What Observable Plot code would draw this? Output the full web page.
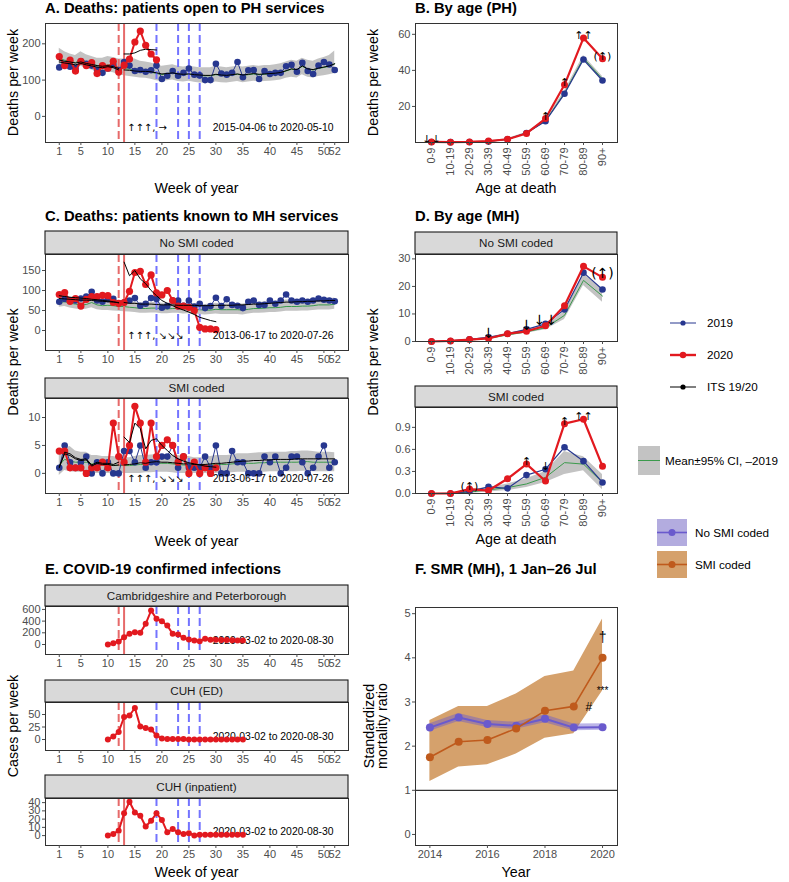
<!DOCTYPE html>
<html><head><meta charset="utf-8">
<script src="https://cdn.jsdelivr.net/npm/d3@7"></script>
<script src="https://cdn.jsdelivr.net/npm/@observablehq/plot@0.6"></script>
<style>
body{margin:0;background:#fff;}
#root{position:relative;width:789px;height:882px;overflow:hidden;font-family:"Liberation Sans",Arial,Helvetica,sans-serif;background:#fff;}
#root svg{position:absolute;}
</style></head><body><div id="root"></div>
<script>
// ---------------- DATA ----------------
const weekTicks = [1,5,10,15,20,25,30,35,40,45,50,52];
const redDashedWeeks = [12];
const redSolidWeeks = [13];
const blueDashedWeeks = [19,23,25,27];

// Panel A (PH weekly deaths)
const A_2019 = [135,143,137,133,152,145,140,128,120,132,143,128,150,140,125,128,123,127,140,103,112,125,112,120,132,115,113,100,100,145,118,115,120,150,108,127,128,103,125,117,120,120,138,142,123,148,125,117,140,150,143,128];
const A_2020 = [165,140,155,125,152,140,148,118,140,133,152,122,141,158,205,235,196,172,156];
const A_mean = [160,155,152,148,158,150,145,140,138,142,140,135,132,130,128,126,125,122,118,115,118,120,116,115,117,114,112,112,112,115,113,112,114,116,113,115,117,115,116,117,118,120,125,130,128,138,130,128,132,135,138,145];
const A_hi = [188,178,172,168,178,170,165,160,160,165,162,158,158,160,158,152,150,147,142,138,140,142,138,136,138,136,134,134,134,138,136,134,136,138,136,138,140,138,140,140,142,145,150,155,152,160,155,152,158,162,168,180];
const A_lo = [140,136,134,130,138,132,128,122,118,122,120,115,112,110,108,106,105,102,98,96,98,100,96,95,97,94,92,92,92,95,93,92,94,96,93,95,97,95,96,97,98,100,105,108,106,115,108,106,110,112,115,118];
const A_itsPre19 = [150,147,145,142,146,142,139,136,134,137,134,128];
const A_itsPre20 = [155,152,150,147,150,146,143,140,138,140,137,132];
const A_itsPost19 = [128,127,125,124,124,123,120,117,118,120,117,116,117,115,114,113,113,116,114,113,115,117,114,116,118,116,117,118,119,121,126,131,129,139,131,129,133,136,139,145];
const A_itsPost20 = [172,172,175,182,185,184,183];
const A_arrows = "↑↑↑, →";
const A_range = "2015-04-06 to 2020-05-10";

// Panel C (MH weekly deaths)
const C1_2019 = [72,79,75,75,80,85,97,75,72,78,79,68,70,75,81,62,67,81,79,57,61,75,75,62,75,60,67,56,61,82,61,78,64,62,56,72,75,64,64,75,67,75,90,75,72,75,72,75,80,77,75,73];
const C1_2020 = [90,95,73,80,61,78,85,85,88,87,70,68,70,98,145,148,115,139,94,89,100,75,61,61,58,50,8,4,4,2];
const C1_mean = [70,72,68,66,64,65,70,64,62,63,62,60,60,58,57,55,55,56,56,54,54,55,55,53,54,52,52,51,51,53,52,52,52,52,51,53,55,55,56,57,57,58,60,60,60,61,61,62,64,64,64,66];
const C1_hi = [84,88,84,82,80,80,86,80,78,78,77,75,74,72,71,69,69,70,70,68,68,69,69,67,68,66,66,65,66,68,66,66,66,66,66,68,70,70,71,72,72,73,76,76,75,76,76,77,79,79,79,81];
const C1_lo = [58,60,56,54,52,53,57,52,50,50,49,48,47,46,45,43,43,44,44,42,42,43,43,41,42,40,40,39,40,41,40,40,40,40,39,41,43,43,44,45,45,46,48,48,48,49,49,50,51,51,51,53];
const C1_itsPre19 = [80,79,78,77,76,76,75,74,73,72,71,70];
const C1_itsPre20 = [87,85,83,82,81,80,78,77,75,74,72,69];
const C1_itsPost19 = [70,68,68,66,66,66,65,64,64,64,63,63,63,63,62,62,62,63,63,63,63,64,64,65,66,66,67,68,69,70,71,71,72,72,73,73,74,74,75,75];
const C1_itsPost20 = [171,137,150,129,117,100,87,75,68,62,56,51,46,40,33,29,25,22];

const C2_2019 = [1,5,2,1,2,3,0,2,0,2,0,0,4,4,2,5,1,2,2,3,3,5,1,3,1,1,1,3,1,5,0,0,4,2,2,0,0,0,3,2,3,0,1,3,3,2,0,1,3,5,1,2];
const C2_2020 = [4,4,1,1,1,0,1,1,2,1,9,3,2,5,12,9,2,9,3,5,6,5,2,3,0,2,0,1,0,1];
const C2_mean = [1.5,2.5,2.2,2,2,2,1.7,1.6,1.5,1.5,1.5,1.4,1.4,1.4,1.5,1.6,1.6,1.7,1.8,1.8,1.8,1.7,1.6,1.5,1.5,1.4,1.4,1.4,1.5,1.6,1.6,1.6,1.7,1.8,1.8,1.8,1.8,1.9,1.9,2.0,2.0,2.0,2.0,2.0,2.0,2.1,2.1,2.0,2.0,2.0,2.0,2.0];
const C2_hi = [3.5,4.5,4.8,4,3.8,3.8,3.2,3.2,3,3,3,2.8,2.8,2.8,3,3.2,3.2,3.3,3.4,3.4,3.4,3.3,3.2,3,3,2.8,2.8,2.8,3,3.2,3.2,3.2,3.3,3.5,3.5,3.5,3.6,3.7,3.7,3.8,3.8,3.8,3.8,3.9,3.9,4,4,3.9,3.8,3.8,3.8,3.7];
const C2_lo = [-0.4,0.5,0.3,0.2,0.2,0.2,0,0,0,0,0,0,0,0,0,0,0.1,0.1,0.2,0.2,0.2,0.1,0,0,0,0,0,0,0,0,0,0,0.1,0.2,0.2,0.2,0.2,0.2,0.2,0.3,0.3,0.3,0.3,0.3,0.3,0.4,0.4,0.3,0.3,0.3,0.3,0.3];
const C2_itsPre19 = [1.2,3.5,3.2,2.6,2.3,2.4,1.3,1.8,1.6,1.6,1.4,1.5];
const C2_itsPre20 = [1,3.8,3.5,2.8,2.5,2.6,1.5,2,1.8,1.8,1.6,2];
const C2_itsPost19 = [1.5,1.6,1.7,1.9,1.8,2.0,2.1,2.0,2.0,1.9,1.8,1.7,1.7,1.6,1.6,1.6,1.7,1.8,1.8,1.9,2.0,2.1,2.2,2.2,2.3,2.3,2.4,2.4,2.5,2.5,2.5,2.5,2.6,2.6,2.6,2.6,2.6,2.6,2.6,2.6];
const C2_itsPost20 = [6.5,5.5,9,8,4.4,5.9,6.2,5,4.1,3.2,2.6,2.2,1.9,1.7,1.5,1.3,1.2,1.1];
const C_arrows = "↑↑↑, ↘↘↘";
const C_range = "2013-06-17 to 2020-07-26";
const mhFacets = ["No SMI coded", "SMI coded"];

// Panels B, D (by age)
const ages = ["0-9","10-19","20-29","30-39","40-49","50-59","60-69","70-79","80-89","90+"];
const B_2019 = [0.3,0.2,0.3,0.6,1.8,5.3,11.8,27,46,34.4];
const B_2020 = [0.3,0.2,0.3,0.8,1.8,5,13.3,32,58,46.5];
const B_mean = [0.3,0.2,0.3,0.6,1.7,5.2,12,27.5,46.8,35.2];
const B_lo = [0.1,0.1,0.2,0.4,1.4,4.7,11.2,26.5,45.3,33.8];
const B_hi = [0.5,0.4,0.5,0.8,2.1,5.7,12.9,28.6,48.2,36.6];
const B_arrows = ["↓↓","","","","","","↑","↑","↑↑","(↑)"];

const D1_2019 = [0,0.2,0.8,1.5,2.8,4.4,6.4,11.6,25,18.9];
const D1_2020 = [0,0.2,0.7,1.1,2.8,3.7,5.7,13,27.3,23.3];
const D1_mean = [0,0.1,0.5,1.1,2.4,3.5,5,9.5,22.2,16.5];
const D1_lo = [0,0,0.3,0.8,2,3,4.3,8,20.3,14.3];
const D1_hi = [0.1,0.3,0.8,1.5,3,4.2,5.8,10.8,24.5,19];
const D1_arrows = ["","","","↓","","↓","↓↓","","","(↑)"];

const D2_2019 = [0,0,0.03,0.09,0.07,0.25,0.33,0.63,0.44,0.15];
const D2_2020 = [0,0,0.06,0.04,0.2,0.4,0.17,0.95,1.01,0.37];
const D2_mean = [0,0,0.02,0.05,0.08,0.13,0.22,0.42,0.4,0.15];
const D2_lo = [0,0,0,0.02,0.04,0.08,0.15,0.26,0.31,0.05];
const D2_hi = [0,0.01,0.05,0.08,0.13,0.2,0.3,0.57,0.5,0.26];
const D2_arrows = ["","","(↑)","","","↑","↓","↑","↑↑",""];

// Panel E (COVID-19 infections, weeks 10-35)
const E_weeks = [10,11,12,13,14,15,16,17,18,19,20,21,22,23,24,25,26,27,28,29,30,31,32,33,34,35];
const E1 = [0,23,51,125,182,211,200,353,581,439,399,325,182,170,114,85,68,57,97,80,80,75,75,72,70,68];
const E2 = [0,6,15,45,48,63,26,23,20,8,2,1,1,1,1,0,0,0,0,0,0,0,0,0,0,0];
const E3 = [0,2,6,27,41,28,24,11,18,27,19,4,8,4,2,3,0,1,1,1,1,1,1,1,1,1];
const E_facets = ["Cambridgeshire and Peterborough", "CUH (ED)", "CUH (inpatient)"];
const E_range = "2020-03-02 to 2020-08-30";

// Panel F (SMR)
const F_years = [2014,2015,2016,2017,2018,2019,2020];
const F_no = [2.42,2.65,2.5,2.46,2.62,2.42,2.43];
const F_no_lo = [2.34,2.56,2.42,2.38,2.53,2.35,2.36];
const F_no_hi = [2.51,2.74,2.58,2.54,2.71,2.5,2.51];
const F_smi = [1.75,2.1,2.14,2.4,2.8,2.9,4.0];
const F_smi_lo = [1.2,1.53,1.58,1.82,2.18,2.28,3.25];
const F_smi_hi = [2.58,2.9,2.9,3.18,3.58,3.7,4.88];
const F_groups = ["No SMI coded", "SMI coded"];

const legendSeries = ["2019", "2020", "ITS 19/20"];
const legendMean = "Mean±95% CI, –2019";

// ---------------- STYLE ----------------
const FONT = '"Liberation Sans", Arial, Helvetica, sans-serif';
const ARROWFONT = '"DejaVu Sans", sans-serif';
const BLUE = "#27378f", RED = "#e2191f", GREEN = "#3b9a4c", GRAY = "#c3c3c3";
const RED_V = "#e66a6a", BLUE_V = "#7474ff";
const PURPLE = "#6a5acd", ORANGE = "#bf5a1c", ORANGE_BAND = "#d5a16c";

const root = document.getElementById("root");
const weeks = d3.range(1, 53);

function panel(f, {x, y, xAxis, yAxis, marks, mb = 20}) {
  const ml = 40, mt = 2, mr = 3;
  const svg = Plot.plot({
    width: f.x1 - f.x0 + ml + mr, height: f.y1 - f.y0 + mt + mb,
    marginLeft: ml, marginRight: mr, marginTop: mt, marginBottom: mb,
    x, y,
    style: {fontFamily: FONT, fontSize: "11px", color: "#4d4d4d", background: "transparent", overflow: "visible"},
    marks: [...marks, Plot.frame({stroke: "#333", strokeWidth: 1}), xAxis, yAxis]
  });
  svg.style.left = (f.x0 - ml) + "px";
  svg.style.top = (f.y0 - mt) + "px";
  root.appendChild(svg);
}

const ser = (xs, vs) => vs.map((v, i) => ({x: xs[i], v}));

function eventRules() {
  return [
    Plot.ruleX(redDashedWeeks, {stroke: RED_V, strokeWidth: 2, strokeDasharray: "8,4"}),
    Plot.ruleX(redSolidWeeks, {stroke: RED_V, strokeWidth: 2}),
    Plot.ruleX(blueDashedWeeks, {stroke: BLUE_V, strokeWidth: 2, strokeDasharray: "8,4"})
  ];
}

function weekAxisX() { return Plot.axisX({ticks: weekTicks, tickSize: 3, tickPadding: 2, label: null, fontSize: 11}); }

function weekPanel(f, d) {
  const band = weeks.map((w, i) => ({x: w, lo: d.lo[i], hi: d.hi[i], m: d.mean[i]}));
  const s19 = ser(weeks, d.v19), s20 = ser(weeks, d.v20);
  const its = [ser(weeks, d.pre19), ser(weeks, d.pre20), ser(weeks.slice(12), d.post19), ser(weeks.slice(12), d.post20)];
  panel(f, {
    x: {domain: [-1.55, 54.55]}, y: {domain: d.yDomain},
    xAxis: weekAxisX(),
    yAxis: Plot.axisY({ticks: d.yTicks, tickSize: 3, tickPadding: 2, label: null, fontSize: 11}),
    marks: [
      Plot.areaY(band, {x: "x", y1: "lo", y2: "hi", fill: GRAY}),
      Plot.lineY(band, {x: "x", y: "m", stroke: GREEN, strokeWidth: 1}),
      ...eventRules(),
      Plot.lineY(s19, {x: "x", y: "v", stroke: BLUE, strokeWidth: 1}),
      Plot.dot(s19, {x: "x", y: "v", r: 3.3, fill: BLUE}),
      Plot.lineY(s20, {x: "x", y: "v", stroke: RED, strokeWidth: 2}),
      Plot.dot(s20, {x: "x", y: "v", r: 3.6, fill: RED}),
      ...its.map(s => Plot.lineY(s, {x: "x", y: "v", stroke: "#000", strokeWidth: 1})),
      Plot.text([d.arrows], {x: () => redSolidWeeks[0], frameAnchor: "bottom", text: t => t, textAnchor: "start", dx: 3, dy: -12, fontSize: 10, fontFamily: ARROWFONT, fill: "#000"}),
      Plot.text([d.range], {frameAnchor: "bottom-right", text: t => t, textAnchor: "end", dx: -15, dy: -12, fontSize: 10.4, fill: "#000"})
    ]
  });
}

function agePanel(f, d) {
  const rows = ages.map((a, i) => ({a, y19: d.v19[i], y20: d.v20[i], m: d.mean[i], lo: d.lo[i], hi: d.hi[i], t: d.arrows[i]}));
  panel(f, {
    x: {type: "point", domain: ages, padding: 0.6}, y: {domain: d.yDomain},
    mb: 42,
    xAxis: Plot.axisX({tickRotate: -90, tickSize: 3, tickPadding: 2, label: null, fontSize: 11}),
    yAxis: Plot.axisY({ticks: d.yTicks, tickFormat: d.fmt, tickSize: 3, tickPadding: 2, label: null, fontSize: 11}),
    marks: [
      Plot.areaY(rows, {x: "a", y1: "lo", y2: "hi", fill: GRAY}),
      Plot.lineY(rows, {x: "a", y: "m", stroke: GREEN, strokeWidth: 1}),
      Plot.lineY(rows, {x: "a", y: "y19", stroke: BLUE, strokeWidth: 1.2}),
      Plot.dot(rows, {x: "a", y: "y19", r: 3.3, fill: BLUE}),
      Plot.lineY(rows, {x: "a", y: "y20", stroke: RED, strokeWidth: 2.2}),
      Plot.dot(rows, {x: "a", y: "y20", r: 3.5, fill: RED}),
      Plot.text(rows.filter(r => r.t), {x: "a", y: r => Math.max(r.y19, r.y20), text: "t", lineAnchor: "bottom", dy: 1, fontSize: d.arrowSize, fontFamily: ARROWFONT, fill: "#000"})
    ]
  });
}

function casePanel(f, vals, yDomain, yTicks) {
  const s = ser(E_weeks, vals);
  panel(f, {
    x: {domain: [-1.55, 54.55]}, y: {domain: yDomain},
    xAxis: weekAxisX(),
    yAxis: Plot.axisY({ticks: yTicks, tickSize: 3, tickPadding: 2, label: null, fontSize: 11}),
    marks: [
      ...eventRules(),
      Plot.text([E_range], {frameAnchor: "bottom-right", text: t => t, textAnchor: "end", dx: -15, dy: -11, fontSize: 10.4, fill: "#000"}),
      Plot.lineY(s, {x: "x", y: "v", stroke: RED, strokeWidth: 2}),
      Plot.dot(s, {x: "x", y: "v", r: 3, fill: RED})
    ]
  });
}

// ---------------- PANELS ----------------
weekPanel({x0: 45, x1: 348, y0: 23, y1: 142}, {v19: A_2019, v20: A_2020, mean: A_mean, lo: A_lo, hi: A_hi,
  pre19: A_itsPre19, pre20: A_itsPre20, post19: A_itsPost19, post20: A_itsPost20,
  yDomain: [-72, 256], yTicks: [0, 100, 200], arrows: A_arrows, range: A_range});

agePanel({x0: 415, x1: 617, y0: 23, y1: 142}, {v19: B_2019, v20: B_2020, mean: B_mean, lo: B_lo, hi: B_hi, arrows: B_arrows,
  yDomain: [0, 66], yTicks: [20, 40, 60], arrowSize: 11});

weekPanel({x0: 45, x1: 348, y0: 254, y1: 350}, {v19: C1_2019, v20: C1_2020, mean: C1_mean, lo: C1_lo, hi: C1_hi,
  pre19: C1_itsPre19, pre20: C1_itsPre20, post19: C1_itsPost19, post20: C1_itsPost20,
  yDomain: [-50, 190], yTicks: [0, 50, 100, 150], arrows: C_arrows, range: C_range});

weekPanel({x0: 45, x1: 348, y0: 398, y1: 493}, {v19: C2_2019, v20: C2_2020, mean: C2_mean, lo: C2_lo, hi: C2_hi,
  pre19: C2_itsPre19, pre20: C2_itsPre20, post19: C2_itsPost19, post20: C2_itsPost20,
  yDomain: [-3.6, 13.4], yTicks: [0, 5, 10], arrows: C_arrows, range: C_range});

agePanel({x0: 415, x1: 617, y0: 254, y1: 341}, {v19: D1_2019, v20: D1_2020, mean: D1_mean, lo: D1_lo, hi: D1_hi, arrows: D1_arrows,
  yDomain: [0, 31.6], yTicks: [0, 10, 20, 30], arrowSize: 14});

agePanel({x0: 415, x1: 617, y0: 407, y1: 493}, {v19: D2_2019, v20: D2_2020, mean: D2_mean, lo: D2_lo, hi: D2_hi, arrows: D2_arrows,
  yDomain: [0, 1.17], yTicks: [0, 0.3, 0.6, 0.9], fmt: d3.format(".1f"), arrowSize: 11});

casePanel({x0: 45, x1: 348, y0: 606, y1: 654}, E1, [-171, 650], [0, 200, 400, 600]);
casePanel({x0: 45, x1: 348, y0: 702, y1: 750}, E2, [-22, 74], [0, 25, 50]);
casePanel({x0: 45, x1: 348, y0: 798, y1: 845}, E3, [-12, 45], [0, 10, 20, 30, 40]);

// Panel F
{
  const rows = F_years.map((yr, i) => ({x: yr, no: F_no[i], nlo: F_no_lo[i], nhi: F_no_hi[i], s: F_smi[i], slo: F_smi_lo[i], shi: F_smi_hi[i]}));
  const last = rows[rows.length - 1], prev = rows[rows.length - 2];
  panel({x0: 415, x1: 617, y0: 607, y1: 845}, {
    x: {domain: [2013.5, 2020.52]}, y: {domain: [-0.25, 5.14]},
    xAxis: Plot.axisX({ticks: [2014, 2016, 2018, 2020], tickFormat: "d", tickSize: 3, tickPadding: 2, label: null, fontSize: 11}),
    yAxis: Plot.axisY({ticks: [0, 1, 2, 3, 4, 5], tickFormat: "d", tickSize: 3, tickPadding: 2, label: null, fontSize: 11}),
    marks: [
      Plot.areaY(rows, {x: "x", y1: "slo", y2: "shi", fill: ORANGE_BAND}),
      Plot.areaY(rows, {x: "x", y1: "nlo", y2: "nhi", fill: PURPLE, fillOpacity: 0.45}),
      Plot.ruleY([1], {stroke: "#000", strokeWidth: 1}),
      Plot.lineY(rows, {x: "x", y: "no", stroke: PURPLE, strokeWidth: 2}),
      Plot.dot(rows, {x: "x", y: "no", r: 4, fill: PURPLE}),
      Plot.lineY(rows, {x: "x", y: "s", stroke: ORANGE, strokeWidth: 1.6}),
      Plot.dot(rows, {x: "x", y: "s", r: 4, fill: ORANGE}),
      Plot.text([last], {x: "x", y: "s", text: () => "†", dy: -20, fontSize: 14, fill: "#000"}),
      Plot.text([last], {x: "x", y: "slo", text: () => "***", dy: 0, fontSize: 10, fill: "#000"}),
      Plot.text([prev], {x: "x", y: "s", text: () => "#", dx: 15, dy: 1, fontSize: 12, fill: "#000"})
    ]
  });
}

// ---------------- OVERLAY TEXT, STRIPS, LEGENDS ----------------
const ov = d3.select(root).append("svg").attr("width", 789).attr("height", 882)
  .style("left", "0px").style("top", "0px").style("font-family", FONT).style("pointer-events", "none");

function txt(s, x, y, o = {}) {
  const t = ov.append("text").text(s)
    .attr("font-size", o.size || 14.3).attr("font-weight", o.weight || "normal")
    .attr("text-anchor", o.anchor || "start").attr("fill", o.fill || "#000");
  if (o.rotate) t.attr("transform", `translate(${x},${y}) rotate(-90)`);
  else t.attr("x", x).attr("y", y);
  return t;
}

// titles
txt("A. Deaths: patients open to PH services", 45, 13, {size: 14.8, weight: "bold"});
txt("B. By age (PH)", 415, 13, {size: 14.8, weight: "bold"});
txt("C. Deaths: patients known to MH services", 45, 221, {size: 14.8, weight: "bold"});
txt("D. By age (MH)", 415, 221, {size: 14.8, weight: "bold"});
txt("E. COVID-19 confirmed infections", 45, 574, {size: 14.8, weight: "bold"});
txt("F. SMR (MH), 1 Jan–26 Jul", 415, 574, {size: 14.8, weight: "bold"});

// axis titles
txt("Week of year", 196.5, 193, {anchor: "middle"});
txt("Age at death", 516, 193, {anchor: "middle"});
txt("Week of year", 196.5, 545.5, {anchor: "middle"});
txt("Age at death", 516, 543.5, {anchor: "middle"});
txt("Week of year", 196.5, 877, {anchor: "middle"});
txt("Year", 516, 877, {anchor: "middle"});
txt("Deaths per week", 18, 82.5, {anchor: "middle", rotate: true});
txt("Deaths per week", 378, 82.5, {anchor: "middle", rotate: true});
txt("Deaths per week", 18, 362, {anchor: "middle", rotate: true});
txt("Deaths per week", 378, 362, {anchor: "middle", rotate: true});
txt("Cases per week", 18, 726, {anchor: "middle", rotate: true});
txt("Standardized", 373.5, 726, {anchor: "middle", rotate: true});
txt("mortality ratio", 386.5, 726, {anchor: "middle", rotate: true});

// strips
function strip(label, x0, x1, y0, y1) {
  ov.append("rect").attr("x", x0).attr("y", y0).attr("width", x1 - x0).attr("height", y1 - y0)
    .attr("fill", "#d9d9d9").attr("stroke", "#1a1a1a").attr("stroke-width", 1.1);
  txt(label, (x0 + x1) / 2, (y0 + y1) / 2 + 4, {size: 11.7, anchor: "middle", fill: "#1a1a1a"});
}
strip(mhFacets[0], 45, 348, 231, 254);
strip(mhFacets[1], 45, 348, 378, 398);
strip(mhFacets[0], 415, 617, 232, 254);
strip(mhFacets[1], 415, 617, 386, 407);
strip(E_facets[0], 45, 348, 585, 606);
strip(E_facets[1], 45, 348, 680, 702);
strip(E_facets[2], 45, 348, 775, 798);

// legend 1
const lg = [[BLUE, 1, 2.6], [RED, 2.4, 3.2], ["#000", 1, 2.6]];
legendSeries.forEach((s, i) => {
  const y = 323 + i * 32;
  ov.append("line").attr("x1", 670).attr("x2", 696).attr("y1", y).attr("y2", y).attr("stroke", lg[i][0]).attr("stroke-width", lg[i][1]);
  ov.append("circle").attr("cx", 683).attr("cy", y).attr("r", lg[i][2]).attr("fill", lg[i][0]);
  txt(s, 707, y + 4.2, {size: 11.7});
});
ov.append("rect").attr("x", 638).attr("y", 446).attr("width", 22).attr("height", 29).attr("fill", GRAY);
ov.append("line").attr("x1", 638).attr("x2", 660).attr("y1", 460.5).attr("y2", 460.5).attr("stroke", GREEN).attr("stroke-width", 1);
txt(legendMean, 665, 464.5, {size: 11.7});

// legend 2
const lg2 = [[PURPLE, "#b3acdf", 519], [ORANGE, ORANGE_BAND, 551]];
F_groups.forEach((g, i) => {
  const [c, bg, y0] = lg2[i];
  ov.append("rect").attr("x", 657).attr("y", y0).attr("width", 30).attr("height", 27).attr("fill", bg);
  ov.append("line").attr("x1", 657).attr("x2", 687).attr("y1", y0 + 13.5).attr("y2", y0 + 13.5).attr("stroke", c).attr("stroke-width", 1.6);
  ov.append("circle").attr("cx", 672).attr("cy", y0 + 13.5).attr("r", 3.5).attr("fill", c);
  txt(g, 695, y0 + 18, {size: 11.7});
});
</script></body></html>
